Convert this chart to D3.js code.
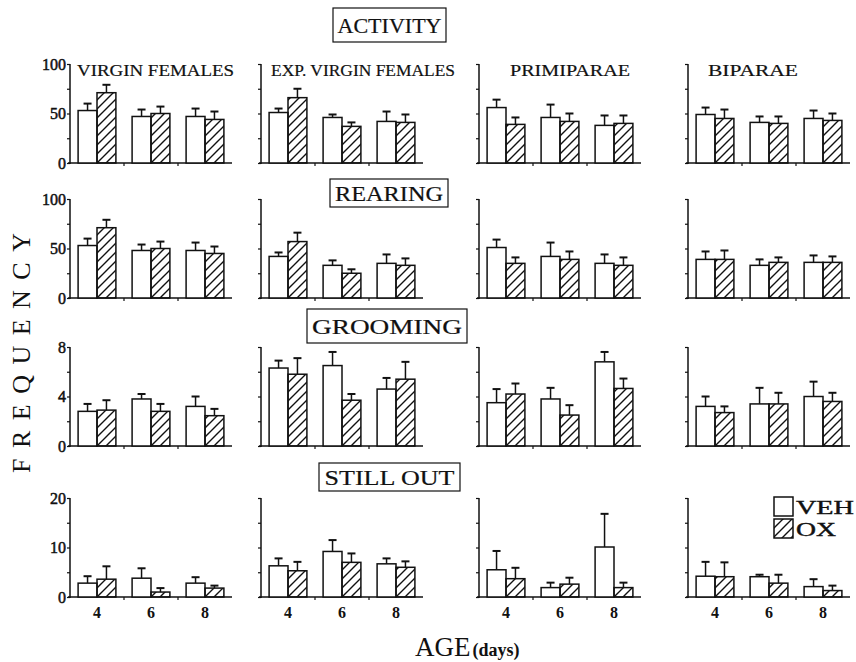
<!DOCTYPE html>
<html>
<head>
<meta charset="utf-8">
<script src="https://cdn.jsdelivr.net/npm/d3@7"></script>
<style>
  body { margin: 0; background: #fff; }
  text { font-family: "Liberation Serif", "Times New Roman", serif; fill: #111; }
</style>
</head>
<body>
<div id="chart"></div>
<script>
var ages = [4, 6, 8];
var groups = ["VIRGIN FEMALES", "EXP. VIRGIN FEMALES", "PRIMIPARAE", "BIPARAE"];
var measures = ["ACTIVITY", "REARING", "GROOMING", "STILL OUT"];
var yTop = [100, 100, 8, 20];          // top tick value of each row
var treatments = ["VEH", "OX"];

// means [group][age], and upward error (SEM)
var activityVeh = [[53, 47, 47], [51, 46, 42], [56, 46, 38], [49, 41, 45]];
var activityVehErr = [[7, 7, 8], [4, 3, 10], [8, 13, 10], [7, 6, 8]];
var activityOx = [[71, 50, 44], [66, 37, 41], [39, 42, 40], [45, 40, 43]];
var activityOxErr = [[8, 7, 8], [9, 4, 8], [7, 8, 8], [9, 7, 7]];

var rearingVeh = [[53, 48, 48], [42, 33, 35], [51, 42, 35], [39, 33, 36]];
var rearingVehErr = [[7, 6, 8], [4, 5, 9], [8, 14, 9], [8, 6, 7]];
var rearingOx = [[71, 50, 45], [57, 25, 33], [35, 39, 33], [39, 36, 36]];
var rearingOxErr = [[8, 7, 7], [9, 4, 7], [6, 8, 8], [9, 5, 6]];

var groomingVeh = [[2.8, 3.8, 3.2], [6.3, 6.5, 4.6], [3.5, 3.8, 6.8], [3.2, 3.4, 4.0]];
var groomingVehErr = [[0.6, 0.4, 0.8], [0.6, 1.1, 0.9], [1.1, 0.9, 0.8], [0.8, 1.3, 1.2]];
var groomingOx = [[2.9, 2.8, 2.45], [5.8, 3.7, 5.4], [4.2, 2.5, 4.65], [2.7, 3.4, 3.6]];
var groomingOxErr = [[0.8, 0.6, 0.55], [1.3, 0.5, 1.4], [0.85, 0.8, 0.8], [0.5, 0.9, 0.7]];

var stillVeh = [[2.8, 3.8, 2.8], [6.3, 9.2, 6.7], [5.5, 1.9, 10.1], [4.2, 4.1, 2.1]];
var stillVehErr = [[1.4, 2.0, 1.2], [1.5, 2.3, 1.1], [3.8, 1.0, 6.7], [2.9, 0.4, 1.5]];
var stillOx = [[3.6, 1.0, 1.8], [5.3, 7.0, 6.0], [3.7, 2.6, 1.9], [4.1, 2.8, 1.3]];
var stillOxErr = [[2.6, 0.8, 0.5], [1.8, 1.8, 1.2], [2.2, 1.3, 1.0], [2.9, 1.7, 1.0]];

var rows = [
    { veh: activityVeh, vehErr: activityVehErr, ox: activityOx, oxErr: activityOxErr },
    { veh: rearingVeh, vehErr: rearingVehErr, ox: rearingOx, oxErr: rearingOxErr },
    { veh: groomingVeh, vehErr: groomingVehErr, ox: groomingOx, oxErr: groomingOxErr },
    { veh: stillVeh, vehErr: stillVehErr, ox: stillOx, oxErr: stillOxErr }
];

var width = 856, height = 662;
var colX = [70, 261, 479, 688],
    rowBase = [163, 298, 446, 597],
    panel_w = 162, panel_h = 99;

var svg = d3.select("#chart").append("svg")
    .attr("width", width)
    .attr("height", height);

var defs = svg.append("defs");
defs.append("pattern")
    .attr("id", "hatch")
    .attr("patternUnits", "userSpaceOnUse")
    .attr("width", 9)
    .attr("height", 9)
    .append("path")
    .attr("d", "M-2,2 l4,-4 M0,9 l9,-9 M7,11 l4,-4")
    .attr("stroke", "#111")
    .attr("stroke-width", 1.4);

var x = d3.scaleBand()
    .domain(ages)
    .range([0, panel_w])
    .paddingInner(0.3)
    .paddingOuter(0.15);
var bw = x.bandwidth() / 2;

rows.forEach(function (row, r) {
    var y = d3.scaleLinear()
        .domain([0, yTop[r]])
        .range([panel_h, 0]);
    var ticks = d3.range(0, 5).map(function (i) { return yTop[r] * i / 4; });

    groups.forEach(function (grp, c) {
        var g = svg.append("g")
            .attr("transform", "translate(" + colX[c] + "," + (rowBase[r] - panel_h) + ")");

        // y axis
        var yAxis = d3.axisLeft(y)
            .tickValues(ticks)
            .tickSize(3)
            .tickFormat("");
        var ya = g.append("g").call(yAxis);
        ya.select(".domain").attr("stroke", "#111").attr("stroke-width", 1.5)
            .attr("d", "M0," + (panel_h + 1) + "V0");
        ya.selectAll(".tick line").attr("stroke", "#111").attr("stroke-width", 1.2);

        if (c === 0) {
            g.selectAll(".ylab")
                .data([0, yTop[r] / 2, yTop[r]])
                .enter().append("text")
                .attr("x", -4)
                .attr("y", function (d) { return y(d); })
                .attr("dy", "0.35em")
                .attr("text-anchor", "end")
                .attr("font-size", 16)
                .style("stroke", "#111")
                .style("stroke-width", 0.5)
                .text(function (d) { return d; });
        }

        // x axis
        g.append("line")
            .attr("x1", -2).attr("x2", panel_w)
            .attr("y1", panel_h).attr("y2", panel_h)
            .attr("stroke", "#111").attr("stroke-width", 1.5);
        g.selectAll(".xtick")
            .data(ages.slice(1))
            .enter().append("line")
            .attr("x1", function (d) { return x(d) - x.step() * x.paddingInner() / 2; })
            .attr("x2", function (d) { return x(d) - x.step() * x.paddingInner() / 2; })
            .attr("y1", panel_h).attr("y2", panel_h + 3)
            .attr("stroke", "#111").attr("stroke-width", 1.2);

        var data = [];
        ages.forEach(function (a, i) {
            data.push({ age: a, t: 0, v: row.veh[c][i], e: row.vehErr[c][i] });
            data.push({ age: a, t: 1, v: row.ox[c][i], e: row.oxErr[c][i] });
        });

        // error bars (upward only)
        var eb = g.selectAll(".err").data(data).enter().append("g");
        eb.append("line")
            .attr("x1", function (d) { return x(d.age) + bw * d.t + bw / 2; })
            .attr("x2", function (d) { return x(d.age) + bw * d.t + bw / 2; })
            .attr("y1", function (d) { return y(d.v); })
            .attr("y2", function (d) { return y(d.v + d.e); })
            .attr("stroke", "#111").attr("stroke-width", 1.5);
        eb.append("line")
            .attr("x1", function (d) { return x(d.age) + bw * d.t + bw / 2 - 4; })
            .attr("x2", function (d) { return x(d.age) + bw * d.t + bw / 2 + 4; })
            .attr("y1", function (d) { return y(d.v + d.e); })
            .attr("y2", function (d) { return y(d.v + d.e); })
            .attr("stroke", "#111").attr("stroke-width", 2);

        g.selectAll(".bar").data(data).enter().append("rect")
            .attr("x", function (d) { return x(d.age) + bw * d.t; })
            .attr("y", function (d) { return y(d.v); })
            .attr("width", bw)
            .attr("height", function (d) { return panel_h - y(d.v); })
            .attr("fill", function (d) { return d.t ? "url(#hatch)" : "#fff"; })
            .attr("stroke", "#111")
            .attr("stroke-width", 1.5);

        if (r === 3) {
            g.selectAll(".xlab").data(ages).enter().append("text")
                .attr("x", function (d) { return x(d) + x.bandwidth() / 2; })
                .attr("y", panel_h + 21)
                .attr("text-anchor", "middle")
                .attr("font-size", 16)
                .attr("font-weight", "bold")
                .text(function (d) { return d; });
        }
    });
});

// column titles
var titleX = [77, 271, 510, 708],
    titleLen = [157, 184, 120, 90];
svg.selectAll(".coltitle").data(groups).enter().append("text")
    .attr("x", function (d, i) { return titleX[i]; })
    .attr("y", 76)
    .attr("font-size", 17)
    .attr("textLength", function (d, i) { return titleLen[i]; })
    .attr("lengthAdjust", "spacingAndGlyphs")
    .style("stroke", "#111")
    .style("stroke-width", 0.2)
    .text(function (d) { return d; });

// boxed measure titles
var boxes = [
    { x: 333, y: 8, w: 113, h: 34, len: 104 },
    { x: 330, y: 179, w: 118, h: 28, len: 108 },
    { x: 307, y: 309, w: 160, h: 34, len: 150 },
    { x: 319, y: 463, w: 141, h: 28, len: 130 }
];
measures.forEach(function (m, i) {
    var b = boxes[i];
    svg.append("rect")
        .attr("x", b.x).attr("y", b.y)
        .attr("width", b.w).attr("height", b.h)
        .attr("fill", "#fff").attr("stroke", "#111").attr("stroke-width", 1.2);
    svg.append("text")
        .attr("x", b.x + b.w / 2)
        .attr("y", b.y + b.h / 2 + 7.5)
        .attr("text-anchor", "middle")
        .attr("font-size", 21)
        .attr("textLength", b.len)
        .attr("lengthAdjust", "spacingAndGlyphs")
        .style("stroke", "#111")
        .style("stroke-width", 0.2)
        .text(m);
});

// FREQUENCY
svg.append("text")
    .attr("transform", "translate(30,353) rotate(-90)")
    .attr("text-anchor", "middle")
    .attr("font-size", 26)
    .attr("textLength", 240)
    .attr("lengthAdjust", "spacing")
    .text("FREQUENCY");

// AGE (days)
var age = svg.append("text")
    .attr("x", 415)
    .attr("y", 656);
age.append("tspan").attr("font-size", 27).text("AGE");
age.append("tspan").attr("font-size", 18).attr("font-weight", "bold").attr("dx", 2).text("(days)");

// legend
var legendLen = [58, 40];
var legend = svg.selectAll(".legend").data(treatments).enter().append("g")
    .attr("transform", function (d, i) { return "translate(774," + (497 + i * 22) + ")"; });
legend.append("rect")
    .attr("width", 19).attr("height", 19)
    .attr("fill", function (d, i) { return i ? "url(#hatch)" : "#fff"; })
    .attr("stroke", "#111").attr("stroke-width", 1.5);
legend.append("text")
    .attr("x", 22).attr("y", 17)
    .attr("font-size", 19)
    .attr("textLength", function (d, i) { return legendLen[i]; })
    .attr("lengthAdjust", "spacingAndGlyphs")
    .style("stroke", "#111")
    .style("stroke-width", 0.4)
    .text(function (d) { return d; });
</script>
</body>
</html>
